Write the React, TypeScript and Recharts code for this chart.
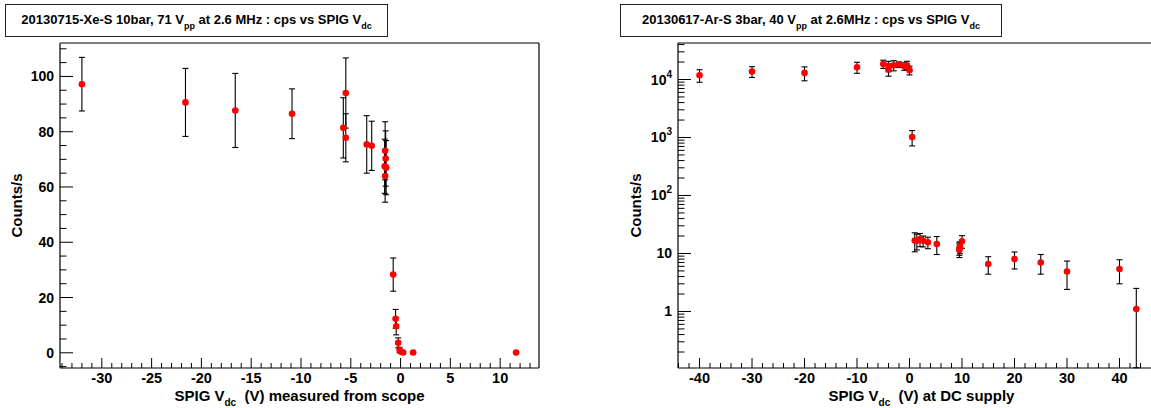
import React from "react";
import { ScatterChart, Scatter, XAxis, YAxis, ErrorBar, Label } from "recharts";

const FONT = '"Liberation Sans", Arial, Helvetica, sans-serif';

// left pad: 20130715-Xe-S, 10 bar, SPIG V_dc measured from scope
const xeVolts = [-32.0, -21.6, -16.6, -10.9, -5.5, -5.75, -5.5, -3.4, -2.9, -1.55, -1.5, -1.6, -1.45, -1.55, -0.74, -0.5, -0.44, -0.24, -0.1, 0.06, 0.26, 1.26, 11.6];
const xeRate = [97.2, 90.6, 87.7, 86.5, 94.0, 81.4, 77.8, 75.4, 74.9, 73.1, 70.3, 67.5, 67.0, 64.0, 28.3, 12.3, 9.6, 3.6, 1.0, 0.4, 0.1, 0.1, 0.1];
const xeErr = [9.7, 12.3, 13.4, 9.0, 12.7, 10.9, 8.7, 10.4, 8.9, 10.5, 10.0, 9.8, 9.8, 9.5, 6.0, 3.4, 3.1, 1.8, 1.0, 0.6, 0.3, 0.2, 0.2];

// right pad: 20130617-Ar-S, 3 bar, SPIG V_dc at DC supply
const arVolts = [-40, -30, -20, -10, -5, -4, -4, -3, -2, -1, -0.5, 0, 0.5, 1, 1.4, 2, 2.6, 3.5, 5.2, 9.5, 9.5, 9.6, 10, 15, 20, 25, 30, 40, 43.2];
const arRate = [11860, 13740, 13000, 16300, 18500, 17100, 14900, 17600, 18100, 16900, 17600, 14500, 1016, 16.7, 16.5, 17.6, 16.5, 15.6, 14.6, 12.3, 11.5, 12.9, 16.3, 6.6, 8.0, 7.0, 4.9, 5.4, 1.1];
const arErr = [2900, 2900, 3500, 3500, 3000, 3500, 3500, 3500, 2000, 2500, 3000, 2500, 300, 6, 5, 4.5, 3.5, 3.5, 5, 3, 3, 3, 4, 2.2, 2.6, 2.6, 2.5, 2.4, 1.4];

// axis labels
const xeXMajor = [-30, -25, -20, -15, -10, -5, 0, 5, 10];
const xeYMajor = [0, 20, 40, 60, 80, 100];
const arXMajor = [-40, -30, -20, -10, 0, 10, 20, 30, 40];
const arYMajor = [1, 10, 100, 1000, 10000];

const xeXDomain = [-34.2, 13.9];
const xeYDomain = [-5.5, 112.1];
const arXDomain = [-44.1, 46];
const arYDomain = [0.106, 42600];

const range = (from: number, to: number, step: number) => {
  const out: number[] = [];
  for (let v = from; v <= to + 1e-9; v += step) out.push(+v.toFixed(4));
  return out;
};

const xeXTicks = range(-34, 13, 1);
const xeYTicks = range(-5, 110, 5);
const arXTicks = range(-44, 44, 2);
const arYTicks = [0.1, 1, 10, 100, 1000, 10000]
  .flatMap((d) => [1, 2, 3, 4, 5, 6, 7, 8, 9].map((m) => +(m * d).toPrecision(3)))
  .filter((v) => v >= arYDomain[0] && v <= arYDomain[1]);

const xeData = xeVolts.map((x, i) => ({ x, y: xeRate[i], err: xeErr[i] }));
// log axis: clip the lower error at the bottom of the frame
const arData = arVolts.map((x, i) => ({
  x,
  y: arRate[i],
  err: [Math.min(arErr[i], arRate[i] - arYDomain[0] * 1.01), arErr[i]],
}));

const isMajor = (list: number[], v: number) =>
  list.some((m) => Math.abs(m - v) < 1e-6 * Math.max(1, Math.abs(m)));

const plainLabel = (v: number) => String(v);
const logLabel = (v: number) => {
  if (v < 100) return String(v);
  const exp = Math.round(Math.log10(v));
  return (
    <>
      10<tspan fontSize={10} dy={-7}>{exp}</tspan>
    </>
  );
};

function makeYTick(major: number[], fmt: (v: number) => React.ReactNode) {
  return (props: any) => {
    const { x, y, payload } = props;
    const big = isMajor(major, payload.value);
    return (
      <g>
        <line x1={x} x2={x + (big ? 13 : 6.5)} y1={y} y2={y} stroke="#000" strokeWidth={1} />
        {big && (
          <text x={x - 6} y={y + 5} textAnchor="end" fontFamily={FONT} fontWeight="bold" fontSize={14} fill="#000">
            {fmt(payload.value)}
          </text>
        )}
      </g>
    );
  };
}

function makeXTick(major: number[]) {
  return (props: any) => {
    const { x, y, payload } = props;
    const big = isMajor(major, payload.value);
    return (
      <g>
        <line x1={x} x2={x} y1={y} y2={y - (big ? 10 : 5)} stroke="#000" strokeWidth={1} />
        {big && (
          <text x={x} y={y + 15} textAnchor="middle" fontFamily={FONT} fontWeight="bold" fontSize={14.5} fill="#000">
            {payload.value}
          </text>
        )}
      </g>
    );
  };
}

const dot = (props: any) => <circle cx={props.cx} cy={props.cy} r={3.3} fill="#ff0000" />;

function xTitle(rest: string, shift: number) {
  return (props: any) => {
    const vb = props.viewBox;
    return (
      <text
        x={vb.x + vb.width / 2 + shift}
        y={vb.y + 33}
        textAnchor="middle"
        fontFamily={FONT}
        fontWeight="bold"
        fontSize={15}
        fill="#000"
        style={{ whiteSpace: "pre" }}
      >
        SPIG V<tspan fontSize={10} dy={5}>dc</tspan>
        <tspan dy={-5}>{rest}</tspan>
      </text>
    );
  };
}

function yTitle(baseX: number) {
  return (props: any) => {
    const vb = props.viewBox;
    const cy = vb.y + vb.height / 2;
    return (
      <text
        x={baseX}
        y={cy}
        transform={`rotate(-90 ${baseX} ${cy})`}
        textAnchor="middle"
        fontFamily={FONT}
        fontWeight="bold"
        fontSize={15}
        fill="#000"
      >
        Counts/s
      </text>
    );
  };
}

function TitleBox({ left, width, main, rest }: { left: number; width: number; main: string; rest: string }) {
  return (
    <div
      style={{
        position: "absolute",
        left,
        top: 4,
        width,
        height: 31,
        border: "1px solid #222",
        background: "#fff",
        display: "flex",
        alignItems: "center",
        justifyContent: "center",
        fontFamily: FONT,
        fontWeight: "bold",
        fontSize: 13,
        whiteSpace: "pre",
        color: "#000",
      }}
    >
      <span style={{ position: "relative", top: -1 }}>
        {main}
        <span style={{ fontSize: 9, position: "relative", top: 5 }}>pp</span>
        {rest}
        <span style={{ fontSize: 9, position: "relative", top: 5 }}>dc</span>
      </span>
    </div>
  );
}

const frame = { stroke: "#000", strokeWidth: 1.2 };

export default function App() {
  return (
    <div style={{ position: "fixed", left: 0, top: 0, width: 1151, height: 408, background: "#fff", overflow: "hidden" }}>
      <div style={{ position: "absolute", left: 0, top: 0 }}>
        <ScatterChart width={575} height={408} margin={{ top: 42, right: 35, bottom: 0, left: 0 }}>
          <XAxis
            xAxisId="b"
            type="number"
            dataKey="x"
            domain={xeXDomain}
            allowDataOverflow
            ticks={xeXTicks}
            interval={0}
            tickSize={0}
            tickMargin={0}
            tickLine={false}
            tick={makeXTick(xeXMajor)}
            height={40}
            axisLine={frame}
          >
            <Label content={xTitle("  (V) measured from scope", 0)} />
          </XAxis>
          <XAxis xAxisId="t" orientation="top" type="number" domain={xeXDomain} allowDataOverflow height={1} tick={false} tickLine={false} axisLine={frame} />
          <YAxis
            yAxisId="l"
            type="number"
            dataKey="y"
            domain={xeYDomain}
            allowDataOverflow
            ticks={xeYTicks}
            interval={0}
            tickSize={0}
            tickMargin={0}
            tickLine={false}
            tick={makeYTick(xeYMajor, plainLabel)}
            width={60}
            axisLine={frame}
          >
            <Label content={yTitle(22)} />
          </YAxis>
          <YAxis yAxisId="r" orientation="right" type="number" domain={xeYDomain} allowDataOverflow width={1} tick={false} tickLine={false} axisLine={frame} />
          <Scatter xAxisId="b" yAxisId="l" data={xeData} shape={dot} isAnimationActive={false}>
            <ErrorBar dataKey="err" direction="y" width={3} stroke="#000" strokeWidth={1.1} isAnimationActive={false} />
          </Scatter>
        </ScatterChart>
      </div>
      <div style={{ position: "absolute", left: 575, top: 0 }}>
        <ScatterChart width={576} height={408} margin={{ top: 42, right: 0, bottom: 0, left: 0 }}>
          <XAxis
            xAxisId="b"
            type="number"
            dataKey="x"
            domain={arXDomain}
            allowDataOverflow
            ticks={arXTicks}
            interval={0}
            tickSize={0}
            tickMargin={0}
            tickLine={false}
            tick={makeXTick(arXMajor)}
            height={40}
            axisLine={frame}
          >
            <Label content={xTitle("  (V) at DC supply", 7)} />
          </XAxis>
          <XAxis xAxisId="t" orientation="top" type="number" domain={arXDomain} allowDataOverflow height={1} tick={false} tickLine={false} axisLine={frame} />
          <YAxis
            yAxisId="l"
            type="number"
            dataKey="y"
            scale="log"
            domain={arYDomain}
            allowDataOverflow
            ticks={arYTicks}
            interval={0}
            tickSize={0}
            tickMargin={0}
            tickLine={false}
            tick={makeYTick(arYMajor, logLabel)}
            width={103}
            axisLine={frame}
          >
            <Label content={yTitle(66)} />
          </YAxis>
          <Scatter xAxisId="b" yAxisId="l" data={arData} shape={dot} isAnimationActive={false}>
            <ErrorBar dataKey="err" direction="y" width={3} stroke="#000" strokeWidth={1.1} isAnimationActive={false} />
          </Scatter>
        </ScatterChart>
      </div>
      <TitleBox left={5} width={381} main="20130715-Xe-S 10bar, 71 V" rest=" at 2.6 MHz : cps vs SPIG V" />
      <TitleBox left={620} width={380} main="20130617-Ar-S 3bar, 40 V" rest=" at 2.6MHz : cps vs SPIG V" />
    </div>
  );
}
